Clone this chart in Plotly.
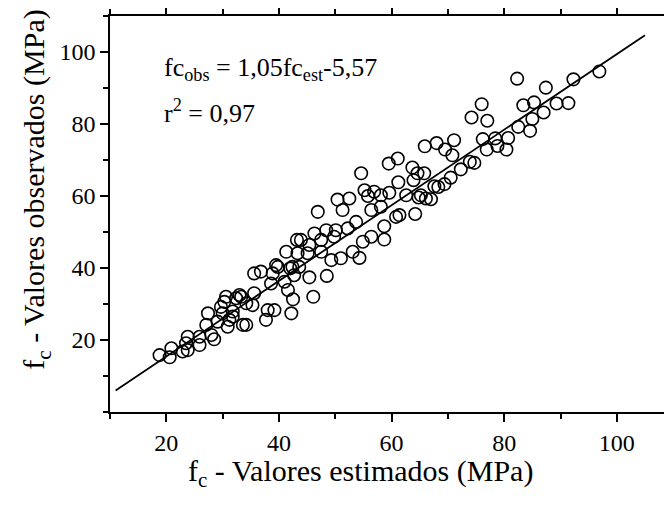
import plotly.graph_objects as go

# Estimated (x) vs observed (y) compressive strength, MPa
fc_est = [82.3, 96.9, 92.3, 87.4, 76.0, 74.2, 77.0, 83.4, 85.3, 89.3, 91.4, 87.0, 85.0, 82.5, 84.6,
          80.7, 78.4, 76.2, 80.4, 78.8, 76.9, 73.9, 72.3, 74.7, 71.1, 68.0, 65.9, 69.5, 70.8, 70.5,
          69.4, 67.6, 65.8, 66.1, 65.2,
          59.5, 61.1, 54.6, 63.7, 64.6, 61.2, 63.9, 55.2, 55.8, 56.9, 58.1, 59.6, 62.6, 64.8, 67.0,
          68.3, 50.4, 52.5, 51.3, 46.9, 56.4, 58.1, 60.8, 61.4, 58.7, 64.2, 46.3, 48.4, 50.1, 52.2,
          53.7, 43.9, 45.4, 47.5, 49.8, 54.9, 56.4, 58.7, 53.1, 54.3, 51.0, 49.3, 47.5, 45.1, 43.6,
          45.4, 48.5, 46.1,
          43.2, 41.3, 43.3, 39.5, 42.4, 35.6, 36.8, 42.7, 41.6, 42.5, 42.2, 33.0, 30.6, 34.2, 35.6,
          38.0, 39.2, 37.7, 34.2, 29.7, 27.4, 30.0, 31.8, 27.1, 30.9, 29.1, 23.8, 25.9,
          18.8, 20.9, 20.6, 22.9, 23.8, 23.5, 25.9, 28.5, 28.0, 30.3, 32.4, 31.8, 31.2, 33.6, 33.3,
          35.3, 39.8, 38.9, 41.0, 42.0, 38.6]
fc_obs = [92.6, 94.6, 92.4, 90.1, 85.5, 81.8, 80.9, 85.2, 86.0, 85.7, 85.8, 83.2, 81.4, 79.2, 78.1,
          76.1, 76.0, 75.8, 72.9, 73.9, 72.9, 69.5, 67.4, 69.2, 75.5, 74.7, 73.8, 72.9, 71.3, 65.1,
          63.3, 62.7, 66.3, 59.3, 60.2,
          69.0, 70.4, 66.3, 67.9, 66.3, 63.8, 64.4, 61.6, 60.0, 61.2, 60.2, 60.9, 60.2, 59.6, 59.1,
          62.5, 59.0, 59.3, 56.1, 55.6, 56.1, 57.0, 54.2, 54.7, 51.6, 55.0, 49.6, 50.5, 50.5, 51.0,
          52.8, 47.8, 46.4, 47.8, 48.7, 47.3, 48.7, 47.9, 44.5, 42.8, 42.7, 42.2, 44.5, 44.1, 40.3,
          37.4, 37.8, 32.0,
          47.8, 44.5, 44.1, 40.8, 40.3, 38.5, 39.0, 38.0, 33.9, 31.3, 27.4, 32.5, 32.0, 30.2, 33.0,
          28.3, 28.3, 25.6, 24.2, 29.2, 27.4, 27.4, 26.5, 24.2, 23.7, 25.1, 20.9, 20.9,
          15.8, 17.7, 15.2, 16.8, 17.2, 19.1, 18.6, 20.2, 21.4, 30.6, 31.6, 27.9, 25.6, 24.2, 32.0,
          29.7, 40.3, 38.5, 36.2, 39.9, 35.7]

# Regression: fc_obs = a * fc_est + b
fit_a = 1.05
fit_b = -5.57
fit_x = [11.0, 105.0]
fit_y = [fit_a * v + fit_b for v in fit_x]

x_ticks = [20, 40, 60, 80, 100]
y_ticks = [20, 40, 60, 80, 100]

x_title = "f<sub>c</sub> - Valores estimados (MPa)"
y_title = "f<sub>c</sub> - Valores observados (MPa)"
eq_text = "fc<sub>obs</sub> = 1,05fc<sub>est</sub>-5,57"
r2_text = "r<sup>2</sup> = 0,97"

FONT = "Times New Roman, Liberation Serif, serif"

W, H = 672, 507
ml, mr, mt, mb = 101.5, 8, 7.7, 102.9
pw, ph = W - ml - mr, H - mt - mb


def px_to_paper(px, py):
    return (px - ml) / pw, (H - mb - py) / ph


fig = go.Figure()
fig.add_trace(go.Scatter(
    x=fc_est, y=fc_obs, mode="markers",
    marker=dict(symbol="circle-open", size=12.5, color="black", line=dict(width=1.6, color="black")),
    showlegend=False, hoverinfo="skip"))
fig.add_trace(go.Scatter(
    x=fit_x, y=fit_y, mode="lines",
    line=dict(color="black", width=1.8), showlegend=False, hoverinfo="skip"))

axis_common = dict(
    showgrid=False, zeroline=False, showline=True, linecolor="black", linewidth=1.6,
    ticks="outside", ticklen=8, tickwidth=1.6, tickcolor="black", automargin=False,
    tickfont=dict(family=FONT, size=24, color="black"),
)

fig.update_xaxes(
    range=[10, 109.8], tickvals=x_ticks, mirror="ticks",
    minor=dict(dtick=10, tick0=0, ticks="outside", ticklen=5, tickwidth=1.6, tickcolor="black"),
    **axis_common)
fig.update_yaxes(
    range=[0, 110], tickvals=y_ticks, mirror=False,
    minor=dict(dtick=10, tick0=0, ticks="outside", ticklen=5, tickwidth=1.6, tickcolor="black"),
    **axis_common)

# axis titles placed by figure-pixel position
xt = px_to_paper(352, 465)
yt = px_to_paper(28, 182)
fig.add_annotation(x=xt[0], y=xt[1], xref="paper", yref="paper", xanchor="center", yanchor="middle",
                   text=x_title, showarrow=False, font=dict(family=FONT, size=30, color="black"))
fig.add_annotation(x=yt[0], y=yt[1], xref="paper", yref="paper", xanchor="center", yanchor="middle",
                   text=y_title, showarrow=False, textangle=-90,
                   font=dict(family=FONT, size=30, color="black"))

fig.add_annotation(x=19.3, y=95.3, xref="x", yref="y", xanchor="left", yanchor="middle",
                   text=eq_text, showarrow=False,
                   font=dict(family=FONT, size=26, color="black"))
fig.add_annotation(x=19.3, y=83.5, xref="x", yref="y", xanchor="left", yanchor="middle",
                   text=r2_text, showarrow=False,
                   font=dict(family=FONT, size=26, color="black"))

fig.update_layout(
    width=W, height=H,
    margin=dict(l=ml, r=mr, t=mt, b=mb, autoexpand=False),
    plot_bgcolor="white", paper_bgcolor="white",
)

fig.write_html("out.html")
